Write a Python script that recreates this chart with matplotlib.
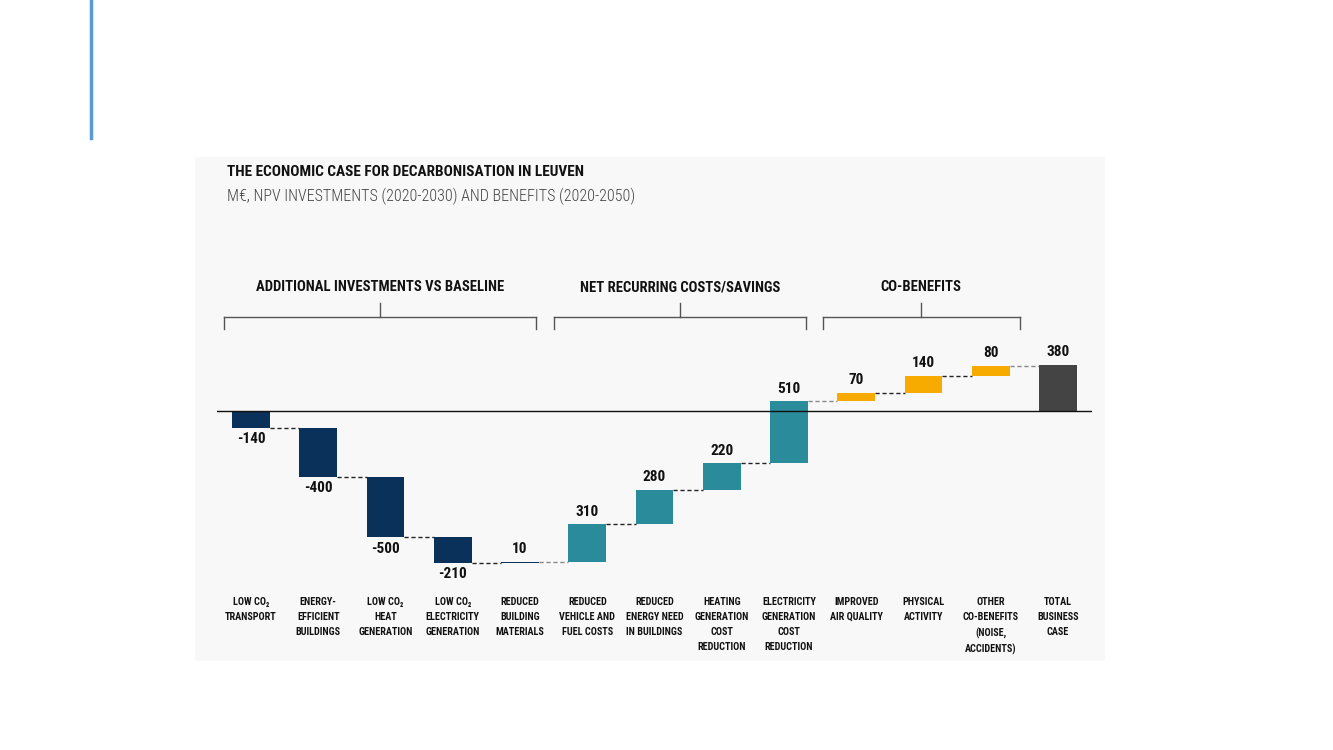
import numpy as np
import matplotlib
matplotlib.use("Agg")
import matplotlib.pyplot as plt
from matplotlib.patches import Rectangle
from matplotlib import transforms

plt.rcParams['font.family'] = ['Roboto Condensed', 'DejaVu Sans']

# data
categories = ["LOW CO₂\nTRANSPORT", "ENERGY-\nEFFICIENT\nBUILDINGS", "LOW CO₂\nHEAT\nGENERATION",
              "LOW CO₂\nELECTRICITY\nGENERATION", "REDUCED\nBUILDING\nMATERIALS",
              "REDUCED\nVEHICLE AND\nFUEL COSTS", "REDUCED\nENERGY NEED\nIN BUILDINGS",
              "HEATING\nGENERATION\nCOST\nREDUCTION", "ELECTRICITY\nGENERATION\nCOST\nREDUCTION",
              "IMPROVED\nAIR QUALITY", "PHYSICAL\nACTIVITY", "OTHER\nCO-BENEFITS\n(NOISE,\nACCIDENTS)",
              "TOTAL\nBUSINESS\nCASE"]
values = [-140, -400, -500, -210, 10, 310, 280, 220, 510, 70, 140, 80]
total = 380
labels = ["-140", "-400", "-500", "-210", "10", "310", "280", "220", "510", "70", "140", "80", "380"]
groups = ["inv", "inv", "inv", "inv", "inv", "net", "net", "net", "net", "co", "co", "co"]
group_names = ["ADDITIONAL INVESTMENTS VS BASELINE", "NET RECURRING COSTS/SAVINGS", "CO-BENEFITS"]

colors = {"inv": "#0a3159", "net": "#2a8b9b", "co": "#f7ab00", "total": "#444444"}

W, H = 1333, 750
def fx(px):
    return px / W
def fy(py):
    return 1 - py / H

fig = plt.figure(figsize=(W / 100, H / 100), dpi=100)
fig.patch.set_facecolor("white")

# slide accent line and grey panel
fig.add_artist(plt.Line2D([fx(91.5), fx(91.5)], [fy(0), fy(138)], color="#5b9bd5", lw=2.5))
fig.add_artist(Rectangle((fx(195), fy(661)), 910 / W, 504 / H, transform=fig.transFigure,
                         facecolor="#f8f8f8", edgecolor="none", zorder=0))

fig.text(fx(227), fy(172), "THE ECONOMIC CASE FOR DECARBONISATION IN LEUVEN", fontsize=11,
         fontweight="bold", color="#111111", va="center", ha="left")
fig.text(fx(227), fy(196), "M€, NPV INVESTMENTS (2020-2030) AND BENEFITS (2020-2050)", fontsize=11.5,
         fontweight="light", color="#444444", va="center", ha="left")

# waterfall axes
scale = 0.1216  # px per unit
ax = fig.add_axes([fx(217.4), fy(600), 874.2 / W, 270 / H])
ax.set_xlim(-0.5, 12.5)
ax.set_ylim(-(600 - 411) / scale, (411 - 330) / scale)
ax.axis("off")
ax.patch.set_alpha(0)

ends = np.cumsum(values)
starts = ends - np.array(values)
bw = 0.56
for i, v in enumerate(values):
    lo, hi = min(starts[i], ends[i]), max(starts[i], ends[i])
    ax.bar(i, hi - lo, bottom=lo, width=bw, color=colors[groups[i]], zorder=3)
    if v < 0:
        ax.annotate(labels[i], (i, lo), xytext=(0, -3), textcoords="offset points",
                    ha="center", va="top", fontsize=11, fontweight="bold", color="#111111")
    else:
        ax.annotate(labels[i], (i, hi), xytext=(0, 4), textcoords="offset points",
                    ha="center", va="bottom", fontsize=11, fontweight="bold", color="#111111")
n = len(values)
ax.bar(n, total, width=bw, color=colors["total"], zorder=3)
ax.annotate(labels[n], (n, total), xytext=(0, 4), textcoords="offset points",
            ha="center", va="bottom", fontsize=11, fontweight="bold", color="#111111")

levels = list(ends) + [total]
light = [4, 8, 11]
for i in range(n):
    c = "#888888" if i in light else "#222222"
    ax.plot([i + bw / 2, i + 1 - bw / 2], [levels[i], levels[i]], ls=(0, (3, 2)), lw=1, color=c, zorder=2)

ax.axhline(0, color="#111111", lw=1, zorder=4)

# category labels
bt = transforms.blended_transform_factory(ax.transData, fig.transFigure)
for i, c in enumerate(categories):
    ax.text(i, fy(597), c, transform=bt, ha="center", va="top", fontsize=7.3,
            fontweight="bold", color="#111111", linespacing=1.62, clip_on=False)

# group brackets
brackets = [(-0.4, 4.24), (4.5, 8.25), (8.5, 11.43)]
for name, (a, b) in zip(group_names, brackets):
    mid = (a + b) / 2
    ax.plot([a, b], [fy(317)] * 2, transform=bt, color="#555555", lw=1, clip_on=False)
    ax.plot([a, a], [fy(317), fy(329)], transform=bt, color="#555555", lw=1, clip_on=False)
    ax.plot([b, b], [fy(317), fy(329)], transform=bt, color="#555555", lw=1, clip_on=False)
    ax.plot([mid, mid], [fy(317), fy(303)], transform=bt, color="#555555", lw=1, clip_on=False)
    ax.text(mid, fy(287), name, transform=bt, ha="center", va="center", fontsize=10.5,
            fontweight="bold", color="#111111")

fig.savefig("out.png", dpi=100)
